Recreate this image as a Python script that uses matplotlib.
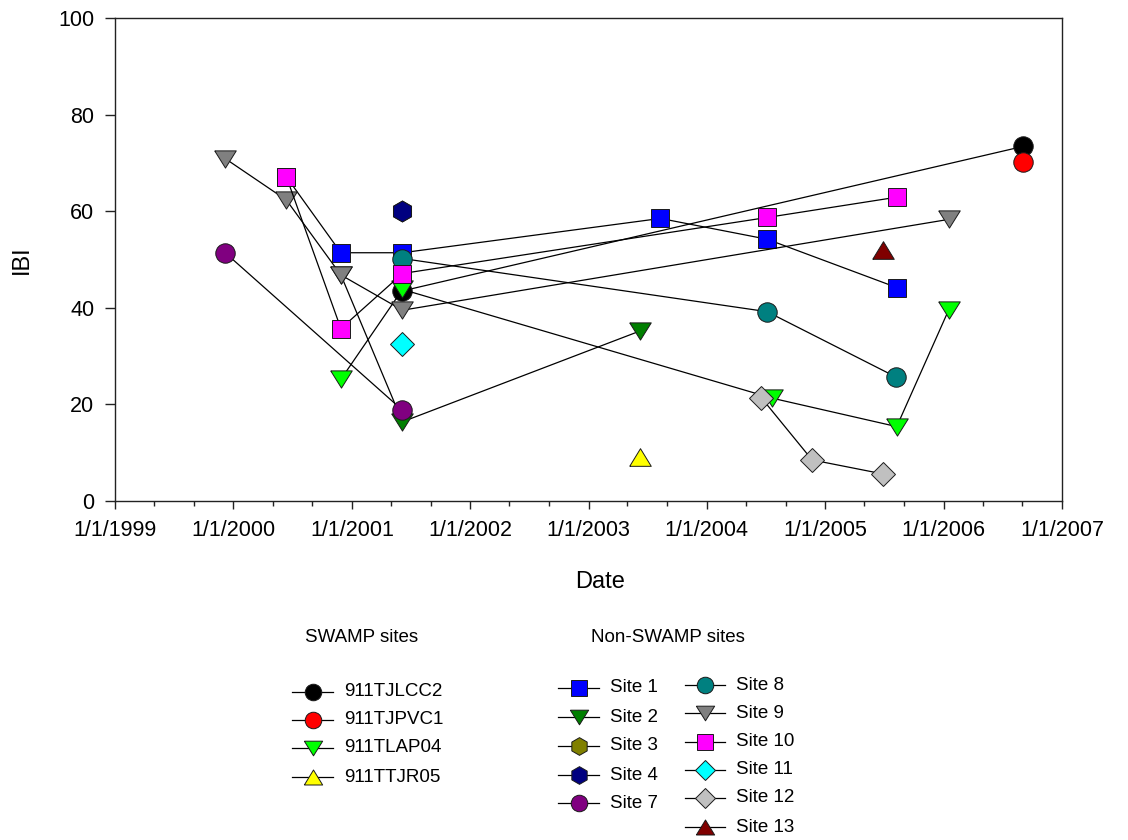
import matplotlib
matplotlib.use('Agg')
import matplotlib.pyplot as plt
import matplotlib.dates as mdates
from matplotlib.lines import Line2D
from matplotlib.ticker import FuncFormatter
import pandas as pd

plt.rcParams['font.family'] = ['Liberation Sans', 'DejaVu Sans']

# ---------------- data ----------------
# SWAMP sites
tjlcc2_dates = ['2001-06-06', '2006-09-02']
tjlcc2_ibi = [43.5, 73.4]
tjpvc1_dates = ['2006-09-02']
tjpvc1_ibi = [70.1]
tlap04_dates = ['2000-11-28', '2001-06-06', '2004-07-20', '2005-08-09', '2006-01-16']
tlap04_ibi = [25.2, 43.8, 21.3, 15.4, 39.5]
ttjr05_dates = ['2003-06-09']
ttjr05_ibi = [9.2]

# Non-SWAMP sites
site1_dates = ['2000-06-13', '2000-11-28', '2001-06-06', '2003-08-11', '2004-07-05', '2005-08-09']
site1_ibi = [67.1, 51.4, 51.4, 58.5, 54.2, 44.2]
site2_dates = ['2000-11-28', '2001-06-06', '2003-06-09']
site2_ibi = [46.8, 16.4, 35.2]
site3_dates = ['2001-06-06']
site3_ibi = [60.0]
site4_dates = ['2001-06-06']
site4_ibi = [60.0]
site7_dates = ['1999-12-07', '2001-06-06']
site7_ibi = [51.4, 18.8]
site8_dates = ['2001-06-06', '2004-07-05', '2005-08-06']
site8_ibi = [50.2, 39.2, 25.7]
site9_dates = ['1999-12-07', '2000-06-13', '2000-11-28', '2001-06-06', '2006-01-16']
site9_ibi = [70.9, 62.3, 46.8, 39.5, 58.3]
site10_dates = ['2000-06-13', '2000-11-28', '2001-06-06', '2004-07-05', '2005-08-09']
site10_ibi = [67.1, 35.7, 47.1, 58.7, 62.9]
site11_dates = ['2001-06-06']
site11_ibi = [32.6]
site12_dates = ['2004-06-17', '2004-11-21', '2005-06-28']
site12_ibi = [21.4, 8.5, 5.6]
site13_dates = ['2005-06-28']
site13_ibi = [52.0]

swamp_labels = ['911TJLCC2', '911TJPVC1', '911TLAP04', '911TTJR05']
nonswamp_labels = ['Site 1', 'Site 2', 'Site 3', 'Site 4', 'Site 7',
                   'Site 8', 'Site 9', 'Site 10', 'Site 11', 'Site 12', 'Site 13']

x_tick_years = [1999, 2000, 2001, 2002, 2003, 2004, 2005, 2006, 2007]
y_ticks = [0, 20, 40, 60, 80, 100]

# ---------------- styles ----------------
TRI_DOWN = [(-1, 0.8), (1, 0.8), (0, -0.8), (-1, 0.8)]
TRI_UP = [(-1, -0.82), (1, -0.82), (0, 0.82), (-1, -0.82)]

styles = {
    '911TJLCC2': ('o', '#000000', 14),
    '911TJPVC1': ('o', '#ff0000', 14),
    '911TLAP04': (TRI_DOWN, '#00ff00', 15.5),
    '911TTJR05': (TRI_UP, '#ffff00', 15.5),
    'Site 1': ('s', '#0000ff', 13),
    'Site 2': (TRI_DOWN, '#007f00', 15.5),
    'Site 3': ('h', '#808000', 15),
    'Site 4': ('h', '#000080', 15),
    'Site 7': ('o', '#800080', 14),
    'Site 8': ('o', '#008080', 14),
    'Site 9': (TRI_DOWN, '#808080', 15.5),
    'Site 10': ('s', '#ff00ff', 13),
    'Site 11': ('D', '#00ffff', 12.5),
    'Site 12': ('D', '#c0c0c0', 12.5),
    'Site 13': (TRI_UP, '#800000', 15.5),
}

series = [
    ('911TJLCC2', tjlcc2_dates, tjlcc2_ibi),
    ('911TJPVC1', tjpvc1_dates, tjpvc1_ibi),
    ('911TLAP04', tlap04_dates, tlap04_ibi),
    ('911TTJR05', ttjr05_dates, ttjr05_ibi),
    ('Site 1', site1_dates, site1_ibi),
    ('Site 2', site2_dates, site2_ibi),
    ('Site 3', site3_dates, site3_ibi),
    ('Site 4', site4_dates, site4_ibi),
    ('Site 7', site7_dates, site7_ibi),
    ('Site 8', site8_dates, site8_ibi),
    ('Site 9', site9_dates, site9_ibi),
    ('Site 10', site10_dates, site10_ibi),
    ('Site 11', site11_dates, site11_ibi),
    ('Site 12', site12_dates, site12_ibi),
    ('Site 13', site13_dates, site13_ibi),
]

W, H = 1128, 840
fig = plt.figure(figsize=(W / 100, H / 100), dpi=100)
ax = fig.add_axes([115 / W, 1 - 501 / H, 947 / W, 483 / H])

EDGE = '#1a1a1a'
for name, d, v in series:
    m, c, ms = styles[name]
    ax.plot(pd.to_datetime(d), v, color='black', lw=0.9, marker=m, ms=ms,
            mfc=c, mec=EDGE, mew=0.7)

ax.set_xlim(pd.Timestamp(f'{x_tick_years[0]}-01-01'), pd.Timestamp(f'{x_tick_years[-1]}-01-01'))
ax.set_ylim(0, 100)
ax.set_xticks(pd.to_datetime([f'{y}-01-01' for y in x_tick_years]))
ax.xaxis.set_minor_locator(mdates.MonthLocator(bymonth=[1, 5, 9]))


def fmt(x, pos):
    d = mdates.num2date(x)
    return f'{d.month}/{d.day}/{d.year}'


ax.xaxis.set_major_formatter(FuncFormatter(fmt))
ax.set_yticks(y_ticks)

ax.tick_params(axis='both', which='major', direction='out', labelsize=15.5, width=1.0, color='#222222')
ax.tick_params(axis='x', which='major', length=6, pad=8)
ax.tick_params(axis='y', which='major', length=7, pad=8)
ax.tick_params(axis='x', which='minor', length=3.5, width=1.0, color='#222222')
for sp in ax.spines.values():
    sp.set_linewidth(1.0)
    sp.set_color('#222222')

ax.set_xlabel('Date', fontsize=17)
ax.xaxis.set_label_coords((600 - 115) / 947, -(571 - 501) / 483)
ax.set_ylabel('IBI', fontsize=17)
ax.yaxis.set_label_coords((33 - 115) / 947, 0.5)


# ---------------- legends (figure pixel coordinates) ----------------
def fx(px):
    return px / W


def fy(py):
    return 1 - py / H


def key(x0, x1, y, name, tx):
    m, c, ms = styles[name]
    xm = (x0 + x1) / 2
    fig.add_artist(Line2D([fx(x0), fx(x1)], [fy(y), fy(y)], transform=fig.transFigure,
                          color='black', lw=0.9))
    fig.add_artist(Line2D([fx(xm)], [fy(y)], transform=fig.transFigure, linestyle='none',
                          marker=m, ms=ms * 0.85, mfc=c, mec=EDGE, mew=0.7))
    fig.text(fx(tx), fy(y), name, fontsize=13.5, va='center', ha='left')


fig.text(fx(362), fy(638), 'SWAMP sites', fontsize=13.5, ha='center', va='center')
fig.text(fx(668), fy(638), 'Non-SWAMP sites', fontsize=13.5, ha='center', va='center')

sw_y = [692, 720, 748, 777]
for name, y in zip(swamp_labels, sw_y):
    key(292, 333, y, name, 344)

col1_y = [688, 717, 746, 775, 803]
for name, y in zip(nonswamp_labels[:5], col1_y):
    key(558, 599, y, name, 610)

col2_y = [685, 713, 742, 770, 798, 827]
for name, y in zip(nonswamp_labels[5:], col2_y):
    key(685, 725, y, name, 736)

fig.savefig('out.png', dpi=100)
